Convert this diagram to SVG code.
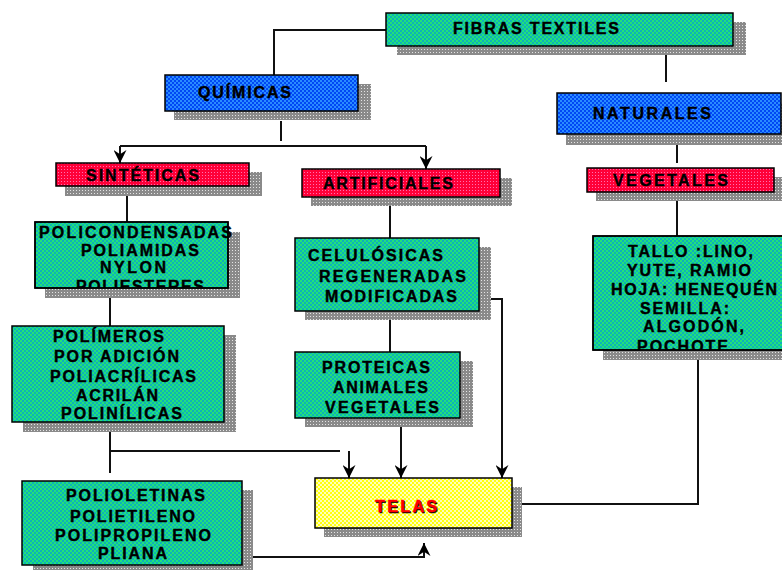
<svg xmlns="http://www.w3.org/2000/svg" width="782" height="570" viewBox="0 0 782 570">
  <defs>
    <!-- dithered fills -->
    <pattern id="pGreen" width="4" height="4" patternUnits="userSpaceOnUse">
      <rect width="4" height="4" fill="#0cb4b8"/>
      <rect x="0" y="0" width="2" height="2" fill="#22e07a"/>
      <rect x="2" y="2" width="2" height="2" fill="#22e07a"/>
    </pattern>
    <pattern id="pBlue" width="4" height="4" patternUnits="userSpaceOnUse">
      <rect width="4" height="4" fill="#0048f4"/>
      <rect x="0" y="0" width="2" height="2" fill="#2a8cff"/>
      <rect x="2" y="2" width="2" height="2" fill="#2a8cff"/>
    </pattern>
    <pattern id="pRed" width="3" height="3" patternUnits="userSpaceOnUse">
      <rect width="3" height="3" fill="#ff0038"/>
      <rect x="1" y="1" width="1" height="1" fill="#ff70b0"/>
    </pattern>
    <pattern id="pYellow" width="4" height="4" patternUnits="userSpaceOnUse">
      <rect width="4" height="4" fill="#ffff10"/>
      <rect x="0" y="0" width="2" height="2" fill="#ffffb8"/>
      <rect x="2" y="2" width="2" height="2" fill="#ffffb8"/>
    </pattern>
    <pattern id="pShadow" width="3" height="3" patternUnits="userSpaceOnUse">
      <rect width="3" height="3" fill="#8a8a8a"/>
      <rect x="1" y="1" width="1" height="1" fill="#e4e4e4"/>
    </pattern>
    <marker id="arrow" viewBox="0 0 12 12" refX="12" refY="6" markerWidth="13" markerHeight="13" markerUnits="userSpaceOnUse" orient="auto">
      <path d="M0,0 L12,6 L0,12 L4,6 Z" fill="#000"/>
    </marker>
    <clipPath id="clipPoli"><rect x="35" y="222" width="200" height="66"/></clipPath>
    <clipPath id="clipTallo"><rect x="593" y="236" width="190" height="114"/></clipPath>
  </defs>
  <style>
    .shadow { fill: url(#pShadow); }
    .box { stroke: #000; stroke-width: 1.5; }
    .green { fill: url(#pGreen); }
    .blue { fill: url(#pBlue); }
    .red { fill: url(#pRed); }
    .yellow { fill: url(#pYellow); }
    .t { font-family: "Liberation Sans", Arial, sans-serif; font-weight: bold; font-size: 16px; fill: #000; stroke: #000; stroke-width: 0.4; }
    .conn { fill: none; stroke: #111; stroke-width: 2; }
    .arr { marker-end: url(#arrow); }
  </style>

  <rect width="782" height="570" fill="#fff"/>

  <!-- connectors -->
  <g id="connectors">
    <path class="conn" d="M386,30 H274 V75"/>
    <path class="conn" d="M666,46 V82"/>
    <path class="conn" d="M281,121 V141"/>
    <path class="conn" d="M120,146 H426"/>
    <path class="conn arr" d="M120,146 V163"/>
    <path class="conn arr" d="M426,146 V169"/>
    <path class="conn" d="M677,135 V163"/>
    <path class="conn" d="M677,200 V236"/>
    <path class="conn" d="M127,186 V222"/>
    <path class="conn" d="M110,298 V326"/>
    <path class="conn" d="M110,432 V473"/>
    <path class="conn" d="M110,451 H340"/>
    <path class="conn arr" d="M349,451 V478"/>
    <path class="conn" d="M390,197 V238"/>
    <path class="conn" d="M390,311 V352"/>
    <path class="conn arr" d="M491,299 H502 V478"/>
    <path class="conn arr" d="M401,427 V478"/>
    <path class="conn" d="M698,360 V504 H522"/>
    <path class="conn arr" d="M253,557 H424 V543"/>
  </g>

  <g id="fibras">
    <rect class="shadow" x="397" y="22" width="349" height="33"/>
    <rect class="box green" x="386" y="13" width="347" height="33"/>
    <text class="t" x="453" y="34" textLength="166" lengthAdjust="spacing">FIBRAS TEXTILES</text>
  </g>

  <g id="quimicas">
    <rect class="shadow" x="174" y="84" width="197" height="36"/>
    <rect class="box blue" x="165" y="75" width="193" height="36"/>
    <text class="t" x="198" y="98" textLength="93" lengthAdjust="spacing">QUÍMICAS</text>
  </g>

  <g id="naturales">
    <rect class="shadow" x="566" y="103" width="220" height="42"/>
    <rect class="box blue" x="557" y="93" width="224" height="41"/>
    <text class="t" x="593" y="119" textLength="118" lengthAdjust="spacing">NATURALES</text>
  </g>

  <g id="sinteticas">
    <rect class="shadow" x="65" y="172" width="197" height="24"/>
    <rect class="box red" x="56" y="163" width="193" height="23"/>
    <text class="t" x="86" y="181" textLength="113" lengthAdjust="spacing">SINTÉTICAS</text>
  </g>

  <g id="artificiales">
    <rect class="shadow" x="311" y="178" width="201" height="28"/>
    <rect class="box red" x="302" y="169" width="198" height="28"/>
    <text class="t" x="323" y="189" textLength="130" lengthAdjust="spacing">ARTIFICIALES</text>
  </g>

  <g id="vegetales">
    <rect class="shadow" x="596" y="177" width="190" height="24"/>
    <rect class="box red" x="587" y="168" width="187" height="24"/>
    <text class="t" x="613" y="186" textLength="115" lengthAdjust="spacing">VEGETALES</text>
  </g>

  <g id="policondensadas">
    <rect class="shadow" x="45" y="232" width="195" height="66"/>
    <rect class="box green" x="35" y="222" width="193" height="66"/>
    <g clip-path="url(#clipPoli)">
      <text class="t" x="39" y="238" textLength="193" lengthAdjust="spacing">POLICONDENSADAS</text>
      <text class="t" x="81" y="256" textLength="118" lengthAdjust="spacing">POLIAMIDAS</text>
      <text class="t" x="100" y="273" textLength="66" lengthAdjust="spacing">NYLON</text>
      <text class="t" x="76" y="292" textLength="128" lengthAdjust="spacing">POLIESTERES</text>
    </g>
    <rect x="35" y="222" width="193" height="66" fill="none" stroke="#000" stroke-width="1.5"/>
  </g>

  <g id="polimeros">
    <rect class="shadow" x="23" y="335" width="213" height="97"/>
    <rect class="box green" x="12" y="326" width="212" height="96"/>
    <text class="t" x="53" y="342" textLength="111" lengthAdjust="spacing">POLÍMEROS</text>
    <text class="t" x="54" y="362" textLength="125" lengthAdjust="spacing">POR ADICIÓN</text>
    <text class="t" x="50" y="382" textLength="146" lengthAdjust="spacing">POLIACRÍLICAS</text>
    <text class="t" x="76" y="401" textLength="82" lengthAdjust="spacing">ACRILÁN</text>
    <text class="t" x="61" y="419" textLength="121" lengthAdjust="spacing">POLINÍLICAS</text>
  </g>

  <g id="celulosicas">
    <rect class="shadow" x="305" y="247" width="186" height="73"/>
    <rect class="box green" x="295" y="238" width="184" height="73"/>
    <text class="t" x="308" y="261" textLength="135" lengthAdjust="spacing">CELULÓSICAS</text>
    <text class="t" x="319" y="282" textLength="147" lengthAdjust="spacing">REGENERADAS</text>
    <text class="t" x="325" y="302" textLength="132" lengthAdjust="spacing">MODIFICADAS</text>
  </g>

  <g id="proteicas">
    <rect class="shadow" x="305" y="361" width="168" height="66"/>
    <rect class="box green" x="295" y="352" width="165" height="66"/>
    <text class="t" x="322" y="373" textLength="108" lengthAdjust="spacing">PROTEICAS</text>
    <text class="t" x="333" y="393" textLength="95" lengthAdjust="spacing">ANIMALES</text>
    <text class="t" x="325" y="413" textLength="114" lengthAdjust="spacing">VEGETALES</text>
  </g>

  <g id="tallo">
    <rect class="shadow" x="603" y="245" width="190" height="115"/>
    <rect class="box green" x="593" y="236" width="192" height="114"/>
    <g clip-path="url(#clipTallo)">
      <text class="t" x="628" y="257" textLength="125" lengthAdjust="spacing">TALLO :LINO,</text>
      <text class="t" x="627" y="276" textLength="124" lengthAdjust="spacing">YUTE, RAMIO</text>
      <text class="t" x="611" y="295" textLength="166" lengthAdjust="spacing">HOJA: HENEQUÉN</text>
      <text class="t" x="640" y="314" textLength="89" lengthAdjust="spacing">SEMILLA:</text>
      <text class="t" x="643" y="332" textLength="101" lengthAdjust="spacing">ALGODÓN,</text>
      <text class="t" x="637" y="352" textLength="91" lengthAdjust="spacing">POCHOTE</text>
    </g>
    <rect x="593" y="236" width="192" height="114" fill="none" stroke="#000" stroke-width="1.5"/>
  </g>

  <g id="polioletinas">
    <rect class="shadow" x="33" y="490" width="220" height="84"/>
    <rect class="box green" x="22" y="481" width="220" height="84"/>
    <text class="t" x="66" y="501" textLength="139" lengthAdjust="spacing">POLIOLETINAS</text>
    <text class="t" x="70" y="522" textLength="125" lengthAdjust="spacing">POLIETILENO</text>
    <text class="t" x="55" y="541" textLength="156" lengthAdjust="spacing">POLIPROPILENO</text>
    <text class="t" x="98" y="559" textLength="69" lengthAdjust="spacing">PLIANA</text>
  </g>

  <g id="telas">
    <rect class="shadow" x="324" y="487" width="198" height="50"/>
    <rect class="box yellow" x="315" y="478" width="197" height="50"/>
    <text class="t" x="376" y="513" textLength="62" lengthAdjust="spacing">TELAS</text>
    <text class="t" x="375" y="512" textLength="62" lengthAdjust="spacing" style="fill:#ff0000;stroke:#ff0000">TELAS</text>
  </g>
</svg>
